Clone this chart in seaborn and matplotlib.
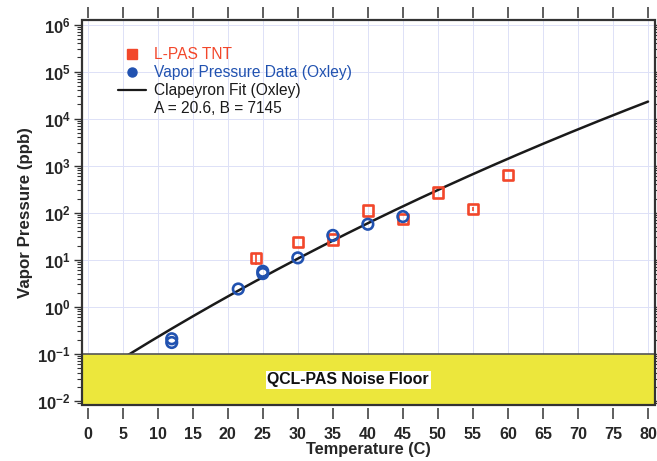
import numpy as np
import pandas as pd
import matplotlib
matplotlib.use("Agg")
import matplotlib.pyplot as plt
from matplotlib.lines import Line2D
from matplotlib.patches import Rectangle
from matplotlib.ticker import FixedLocator, LogLocator, FuncFormatter, NullFormatter
import seaborn as sns

# L-PAS TNT measurements (temperature in C, vapor pressure in ppb)
lpas_temp = [24, 30, 35, 40, 45, 50, 55, 60]
lpas_ppb = [10.8, 24, 27, 112, 73, 270, 120, 630]
lpas_err = [3.0, 0, 0, 0, 0, 0, 12, 0]

# Oxley vapor pressure data
oxley_temp = [12, 12, 21.5, 25, 25, 30, 35, 40, 45]
oxley_ppb = [0.21, 0.175, 2.4, 5.7, 5.1, 11, 33, 57, 83]

# Clapeyron fit: log10(P / Pa) = A - B / T[K]
fit_A = 20.6
fit_B = 7145
fit_temp = np.linspace(0, 80, 161)
fit_ppb = 10 ** (fit_A - fit_B / (fit_temp + 273.15)) / 101325 * 1e9

noise_floor = 0.1
x_ticks = list(range(0, 85, 5))
y_decades = list(range(-2, 7))

RED = "#F2472B"
BLUE = "#2152B0"
YELLOW = "#ECE73C"
GRID = "#DDE1F7"
FRAME = "#333333"

sns.set_theme(style="ticks")
plt.rcParams["font.family"] = ["Liberation Sans", "DejaVu Sans"]
plt.rcParams["mathtext.fontset"] = "custom"
plt.rcParams["mathtext.rm"] = "Liberation Sans:bold"
plt.rcParams["mathtext.bf"] = "Liberation Sans:bold"

fig = plt.figure(figsize=(6.57, 4.61), dpi=100)
ax = fig.add_axes([0.1244, 0.1215, 0.8726, 0.8351])

lpas = pd.DataFrame({"temp": lpas_temp, "ppb": lpas_ppb, "err": lpas_err})
oxley = pd.DataFrame({"temp": oxley_temp, "ppb": oxley_ppb})
fit = pd.DataFrame({"temp": fit_temp, "ppb": fit_ppb})

ax.set_yscale("log")
ax.set_xlim(-0.85, 81.0)
ax.set_ylim(10 ** -2.085, 10 ** 6.096)

# grid
for xv in x_ticks:
    ax.axvline(xv, color=GRID, lw=0.7, zorder=0)
for d in y_decades:
    ax.axhline(10.0 ** d, color=GRID, lw=0.7, zorder=0)

sns.lineplot(data=fit, x="temp", y="ppb", ax=ax, color="#1a1a1a", lw=1.8,
             zorder=2, legend=False)

ax.errorbar(lpas["temp"], lpas["ppb"], yerr=lpas["err"], fmt="none",
            ecolor=RED, elinewidth=1.2, capsize=0, zorder=3)
sns.scatterplot(data=lpas, x="temp", y="ppb", ax=ax, marker="s", s=54,
                facecolor="none", edgecolor=RED, linewidth=1.9, zorder=4,
                legend=False)
sns.scatterplot(data=oxley, x="temp", y="ppb", ax=ax, marker="o", s=58,
                facecolor="none", edgecolor=BLUE, linewidth=1.9, zorder=5,
                legend=False)

# noise floor band
ax.axhspan(10 ** -2.085, noise_floor, facecolor=YELLOW, edgecolor="none", zorder=6)
ax.axhline(noise_floor, color="#555555", lw=1.2, zorder=7)
ax.text(37.2, 10 ** -1.55, "QCL-PAS Noise Floor", ha="center", va="center",
        fontsize=11.4, fontweight="bold", color="#111111", zorder=8,
        bbox=dict(facecolor="white", edgecolor="none", pad=1.2))

# frame
ax.add_patch(Rectangle((0, 0), 1, 1, transform=ax.transAxes, fill=False,
                       edgecolor=FRAME, lw=1.6, zorder=10, clip_on=False))
for side in ["top", "bottom", "left", "right"]:
    ax.spines[side].set_visible(False)
ax.spines["bottom"].set_position(("outward", 2.5))
ax.spines["top"].set_position(("outward", 1.5))

ax.xaxis.set_major_locator(FixedLocator(x_ticks))
ax.yaxis.set_major_locator(FixedLocator([10.0 ** d for d in y_decades]))
ax.yaxis.set_minor_locator(LogLocator(base=10, subs=np.arange(2, 10)))
ax.yaxis.set_minor_formatter(NullFormatter())
ax.yaxis.set_major_formatter(FuncFormatter(
    lambda v, p: r"$\mathbf{10^{%d}}$" % round(np.log10(v))))

ax.tick_params(axis="x", which="major", direction="out", length=8, width=1.1,
               color=FRAME, top=True, bottom=True, labelsize=11.6, pad=5)
ax.tick_params(axis="y", which="major", direction="out", length=6, width=1.0,
               color=FRAME, left=True, right=True, labelsize=12, pad=2)
ax.tick_params(axis="y", which="minor", direction="out", length=3.5, width=0.8,
               color=FRAME, left=True, right=True)
for lab in ax.get_xticklabels():
    lab.set_fontweight("bold")

ax.set_xlabel("Temperature (C)", fontsize=11.8, fontweight="bold", labelpad=0)
ax.set_ylabel("Vapor Pressure (ppb)", fontsize=12.2, fontweight="bold", labelpad=3)

handles = [
    Line2D([], [], marker="s", color=RED, linestyle="", markersize=6.5),
    Line2D([], [], marker="o", color=BLUE, linestyle="", markersize=6.5),
    Line2D([], [], color="#1a1a1a", lw=1.6),
    Line2D([], [], color="none"),
]
labels = ["L-PAS TNT", "Vapor Pressure Data (Oxley)", "Clapeyron Fit (Oxley)",
          "A = 20.6, B = 7145"]
ax.legend(handles, labels, loc="upper left", bbox_to_anchor=(0.064, 0.93),
          frameon=False, fontsize=11.2, labelspacing=0.2, handlelength=1.75,
          handletextpad=0.55, borderpad=0, borderaxespad=0,
          labelcolor=[RED, BLUE, "#1a1a1a", "#1a1a1a"])

fig.savefig("out.png", dpi=100)
